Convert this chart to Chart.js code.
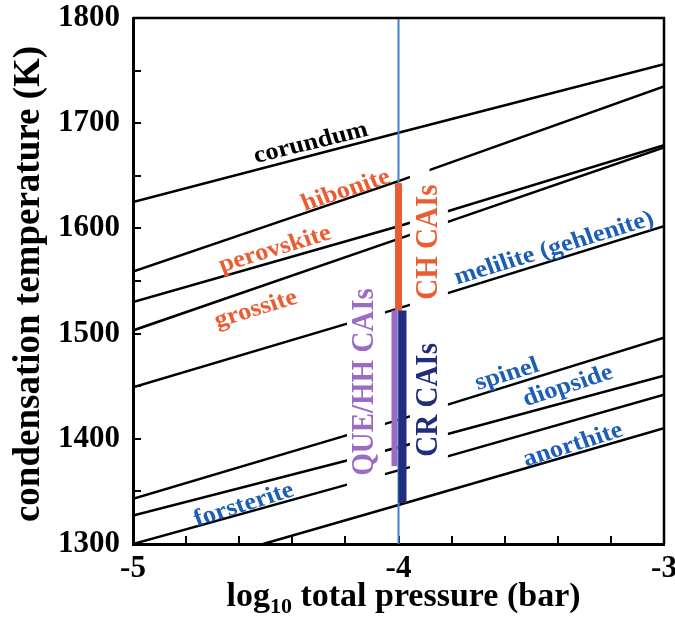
<!DOCTYPE html>
<html>
<head>
<meta charset="utf-8">
<script src="https://cdn.jsdelivr.net/npm/chart.js@4.4.1/dist/chart.umd.min.js"></script>
<style>
  html, body { margin: 0; padding: 0; background: #fff; }
  #wrap { width: 675px; height: 617px; }
</style>
</head>
<body>
<div id="wrap"><canvas id="condChart" width="675" height="617"></canvas></div>
<script>
// log10 total pressure (bar) where each condensation curve was read
const logP = [-5, -4, -3];
const anorthiteP = [-4.51, -4, -3];

// condensation temperatures (K) at those pressures
const corundumT = [1625, 1691, 1756];
const hiboniteT = [1559, 1645, 1735];
const perovskiteT = [1530, 1602, 1679];
const grossiteT = [1503, 1590, 1677];
const meliliteT = [1449, 1524, 1602];
const spinelT = [1343, 1418, 1496];
const diopsideT = [1327, 1392, 1460];
const forsteriteT = [1300, 1370, 1442];
const anorthiteT = [1300, 1337, 1410];

// CAI groups: temperature ranges at log P = -4
const caiGroups = ['CH CAIs', 'QUE/HH CAIs', 'CR CAIs'];
const caiLow = [1522, 1374, 1339];
const caiHigh = [1643, 1522, 1522];
const caiP = -4;

const xTicks = [-5, -4, -3];
const yTicks = [1300, 1400, 1500, 1600, 1700, 1800];

const FONT = '"Liberation Serif", "Times New Roman", serif';
const ORANGE = '#ec5c33';
const BLUE = '#1d5fb6';
const PURPLE = '#9a6cc4';
const NAVY = '#212c7c';
const VLINE = '#3f80d2';

function curve(ps, ts) {
    return ps.map((p, i) => ({ x: p, y: ts[i] }));
}

function lineSet(label, ps, ts) {
    return {
        label: label,
        data: curve(ps, ts),
        showLine: true,
        borderColor: '#000',
        borderWidth: 2.5,
        pointRadius: 0,
        tension: 0
    };
}

// label placements along the curves (data units) and look
const curveLabels = [
    { text: 'corundum', x: -4.33, y: 1681, angle: -15, color: '#000' },
    { text: 'hibonite', x: -4.198, y: 1636, angle: -20, color: ORANGE },
    { text: 'perovskite', x: -4.465, y: 1580, angle: -18.5, color: ORANGE },
    { text: 'grossite', x: -4.537, y: 1523, angle: -18.5, color: ORANGE },
    { text: 'melilite (gehlenite)', x: -3.414, y: 1581, angle: -18.5, color: BLUE },
    { text: 'spinel', x: -3.591, y: 1461, angle: -18.5, color: BLUE },
    { text: 'diopside', x: -3.362, y: 1450, angle: -19.5, color: BLUE },
    { text: 'anorthite', x: -3.343, y: 1394, angle: -19, color: BLUE },
    { text: 'forsterite', x: -4.582, y: 1337, angle: -19, color: BLUE }
];
const caiLabelPos = [
    { x: -3.885, y: 1587, color: ORANGE },
    { x: -4.126, y: 1454, color: PURPLE },
    { x: -3.885, y: 1437, color: NAVY }
];
const caiBarStyle = [
    { dx: 0, w: 7, color: ORANGE },
    { dx: -4, w: 6, color: PURPLE },
    { dx: 4, w: 8, color: NAVY }
];
// white gaps in the curves behind the vertical labels: [x0, x1, y0, y1]
const gaps = [
    [-3.957, -3.814, 1362, 1644],
    [-3.957, -3.883, 1640, 1662],
    [-4.194, -4.051, 1345, 1530]
];

function drawText(ctx, text, px, py, angle, size, color, sx) {
    ctx.save();
    ctx.translate(px, py);
    ctx.scale(sx, 1);
    ctx.rotate(angle * Math.PI / 180);
    ctx.font = 'bold ' + size + 'px ' + FONT;
    ctx.fillStyle = color;
    ctx.textAlign = 'center';
    ctx.textBaseline = 'middle';
    ctx.fillText(text, 0, 0);
    ctx.restore();
}

const overlayPlugin = {
    id: 'overlay',
    afterDatasetsDraw(chart) {
        const ctx = chart.ctx;
        const xs = chart.scales.x;
        const ys = chart.scales.y;
        const area = chart.chartArea;

        // gaps
        ctx.save();
        ctx.fillStyle = '#fff';
        gaps.forEach(g => {
            const x0 = xs.getPixelForValue(g[0]);
            const x1 = xs.getPixelForValue(g[1]);
            const y0 = ys.getPixelForValue(g[3]);
            const y1 = ys.getPixelForValue(g[2]);
            ctx.fillRect(x0, y0, x1 - x0, y1 - y0);
        });
        ctx.restore();

        // CAI bars
        const cx = xs.getPixelForValue(caiP);
        caiGroups.forEach((g, i) => {
            const st = caiBarStyle[i];
            const top = ys.getPixelForValue(caiHigh[i]);
            const bot = ys.getPixelForValue(caiLow[i]);
            ctx.fillStyle = st.color;
            ctx.fillRect(cx + st.dx - st.w / 2, top, st.w, bot - top);
        });

        // curve labels
        curveLabels.forEach(l => {
            drawText(ctx, l.text, xs.getPixelForValue(l.x), ys.getPixelForValue(l.y),
                l.angle, 24, l.color, 1.1);
        });

        // CAI labels (vertical)
        caiGroups.forEach((g, i) => {
            const p = caiLabelPos[i];
            drawText(ctx, g, xs.getPixelForValue(p.x), ys.getPixelForValue(p.y),
                -90, 29, p.color, 1.1);
        });

        // top and right frame
        ctx.save();
        ctx.strokeStyle = '#000';
        ctx.lineWidth = 2.5;
        ctx.beginPath();
        ctx.moveTo(area.left, area.top);
        ctx.lineTo(area.right, area.top);
        ctx.lineTo(area.right, area.bottom);
        ctx.stroke();
        ctx.restore();
    },
    afterDraw(chart) {
        const ctx = chart.ctx;
        const area = chart.chartArea;

        // y-axis title
        drawText(ctx, 'condensation temperature (K)', 29, (area.top + area.bottom) / 2 + 3,
            -90, 37, '#000', 1.05);

        // x-axis title with subscript
        ctx.save();
        ctx.fillStyle = '#000';
        ctx.textBaseline = 'alphabetic';
        const big = 'bold 34px ' + FONT;
        const small = 'bold 22px ' + FONT;
        const a = 'log', b = '10', c = ' total pressure (bar)';
        ctx.font = big;
        const wa = ctx.measureText(a).width;
        const wc = ctx.measureText(c).width;
        ctx.font = small;
        const wb = ctx.measureText(b).width;
        const total = wa + wb + wc;
        const cx = (area.left + area.right) / 2 + 5;
        let x = cx - total / 2;
        const base = 606;
        ctx.font = big;
        ctx.fillText(a, x, base);
        x += wa;
        ctx.font = small;
        ctx.fillText(b, x, base + 7);
        x += wb;
        ctx.font = big;
        ctx.fillText(c, x, base);
        ctx.restore();
    }
};

Chart.register(overlayPlugin);

const datasets = [
    {
        label: 'log P = -4',
        data: [{ x: caiP, y: 1300 }, { x: caiP, y: 1800 }],
        showLine: true,
        borderColor: VLINE,
        borderWidth: 2,
        pointRadius: 0
    },
    lineSet('corundum', logP, corundumT),
    lineSet('hibonite', logP, hiboniteT),
    lineSet('perovskite', logP, perovskiteT),
    lineSet('grossite', logP, grossiteT),
    lineSet('melilite', logP, meliliteT),
    lineSet('spinel', logP, spinelT),
    lineSet('diopside', logP, diopsideT),
    lineSet('forsterite', logP, forsteriteT),
    lineSet('anorthite', anorthiteP, anorthiteT)
];

new Chart(document.getElementById('condChart'), {
    type: 'scatter',
    data: { datasets: datasets },
    options: {
        responsive: false,
        animation: false,
        layout: { padding: { top: 18, right: 11, left: 0, bottom: 0 } },
        plugins: {
            legend: { display: false },
            tooltip: { enabled: false }
        },
        scales: {
            x: {
                type: 'linear',
                min: -5,
                max: -3,
                afterFit(scale) {
                    scale.height = 73;
                    scale.paddingLeft = 0;
                    scale.paddingRight = 0;
                },
                afterBuildTicks(scale) {
                    const t = [];
                    for (let i = 0; i <= 10; i++) t.push({ value: -5 + i * 0.2 });
                    scale.ticks = t;
                },
                grid: {
                    drawOnChartArea: false,
                    drawTicks: true,
                    tickLength: -8,
                    color: '#000',
                    lineWidth: 2
                },
                border: { color: '#000', width: 3 },
                ticks: {
                    autoSkip: false,
                    maxRotation: 0,
                    padding: 14,
                    color: '#000',
                    font: { family: FONT, size: 31, weight: 'bold' },
                    callback(v) {
                        const r = Math.round(v);
                        return (Math.abs(v - r) < 1e-6 && xTicks.includes(r)) ? String(r) : '';
                    }
                }
            },
            y: {
                type: 'linear',
                min: 1300,
                max: 1800,
                afterFit(scale) {
                    scale.width = 133;
                    scale.paddingTop = 0;
                    scale.paddingBottom = 0;
                },
                grid: {
                    drawOnChartArea: false,
                    drawTicks: true,
                    tickLength: -8,
                    color: '#000',
                    lineWidth: 2
                },
                border: { color: '#000', width: 3 },
                ticks: {
                    stepSize: 50,
                    autoSkip: false,
                    padding: 21,
                    color: '#000',
                    font: { family: FONT, size: 31, weight: 'bold' },
                    callback(v) {
                        return yTicks.includes(v) ? String(v) : '';
                    }
                }
            }
        }
    }
});
</script>
</body>
</html>
